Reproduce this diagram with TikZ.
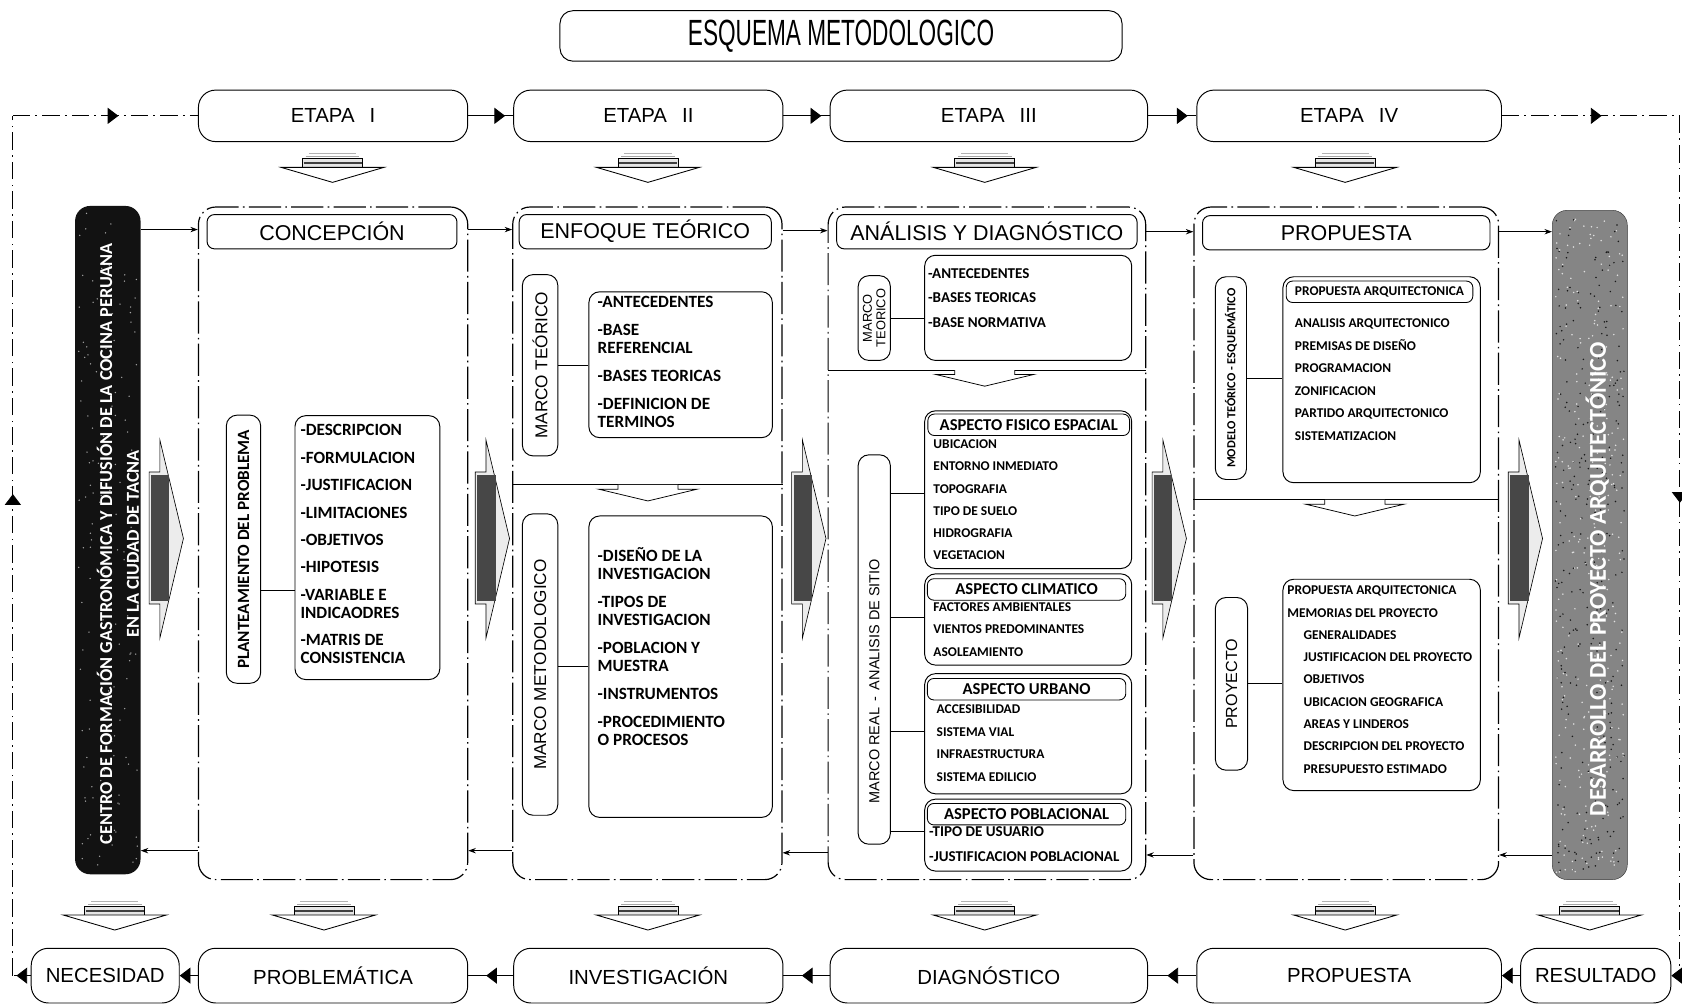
\documentclass[tikz,border=0pt]{standalone}
\usepackage{fontspec}
\setmainfont{Liberation Sans}
\newfontfamily\calfont{Carlito}
\newfontfamily\narrowfont[FakeStretch=0.62]{Liberation Sans}
\usetikzlibrary{positioning,arrows.meta,decorations.markings}

\definecolor{barblack}{gray}{0.07}
\definecolor{bargray}{gray}{0.52}
\definecolor{blkgray}{gray}{0.28}

% down block arrow under a stage / above a result box: centre x, top y
\newcommand{\dnblock}[2]{%
  \draw[gray!60, line width=1pt] (#1-22,#2) -- (#1+22,#2);
  \draw[gray!70, line width=1pt] (#1-25,#2+3) -- (#1+25,#2+3);
  \draw[fill=gray!20, line width=0.6pt] (#1-28,#2+5) rectangle (#1+28,#2+13);
  \draw[gray!50!black, line width=1.5pt] (#1-27,#2+9) -- (#1+27,#2+9);
  \draw[fill=white, line width=0.8pt] (#1-48,#2+13) -- (#1+48,#2+13) -- (#1,#2+27) -- cycle;}
% big right arrow between columns: left x of body
\newcommand{\bigarrow}[1]{%
  \draw[fill=gray!15, line width=0.6pt] (#1,440) -- (#1+10,440) -- (#1+10,410) -- (#1+32,502)
    -- (#1+10,595) -- (#1+10,563) -- (#1,563) -- cycle;
  \fill[blkgray] (#1+2,443) rectangle (#1+19,560);}
% flat arrow hanging from a divider: centre x, divider y
\newcommand{\flatarrow}[2]{%
  \draw[fill=white, line width=0.7pt] (#1-28,#2) -- (#1-28,#2+4) -- (#1-46,#2+4) -- (#1,#2+15)
    -- (#1+46,#2+4) -- (#1+28,#2+4) -- (#1+28,#2);}

\begin{document}
\begin{tikzpicture}[x=1pt, y=-1pt,
  stagebox/.style={draw, line width=0.9pt, rounded corners=16pt, fill=white, minimum height=48pt,
    inner sep=0pt, font=\fontsize{19}{22}\selectfont},
  colbox/.style={draw, line width=1.1pt, dash pattern=on 30pt off 4pt on 1.5pt off 4pt,
    rounded corners=16pt, inner sep=0pt},
  headbox/.style={draw, line width=0.9pt, rounded corners=7pt, minimum height=32pt, inner sep=0pt,
    font=\fontsize{20}{24}\selectfont},
  vlabel/.style={draw, line width=0.9pt, rounded corners=10pt, fill=white, rotate=90, inner sep=0pt, align=center},
  listbox/.style={draw, line width=0.9pt, rounded corners=10pt, inner sep=0pt},
  asphead/.style={draw, line width=0.8pt, rounded corners=6pt, minimum height=20pt, inner sep=0pt,
    font=\calfont\bfseries\fontsize{15.5}{18}\selectfont},
  itemtext/.style={anchor=north west, inner sep=0pt, align=left, font=\calfont\bfseries\fontsize{16}{17}\selectfont},
  link/.style={line width=0.8pt},
  loopline/.style={line width=0.8pt, dash pattern=on 16pt off 5pt on 1.5pt off 5pt},
  thinarr/.style={line width=0.8pt, -{Stealth[length=7pt,width=5pt]}},
  endtri/.style={-{Triangle[length=10pt,width=15pt]}},
  marr/.style={postaction={decorate}, decoration={markings,
    mark=at position #1 with {\arrow{Triangle[length=10pt,width=15pt]}}}}]

  \useasboundingbox (0,0) rectangle (1568,936);

  % title
  \node[draw, line width=0.9pt, rounded corners=12pt, minimum width=524pt, minimum height=47pt, inner sep=0pt,
    font=\narrowfont\fontsize{34}{36}\selectfont] (title) at (784,33.5) {ESQUEMA METODOLOGICO};

  % stage row (top) and result row (bottom)
  \node[stagebox, minimum width=251pt] (et1) at (310.5,108) {ETAPA\hspace{14pt}I};
  \node[stagebox, minimum width=251pt, right=42pt of et1] (et2) {ETAPA\hspace{14pt}II};
  \node[stagebox, minimum width=296pt, right=43pt of et2] (et3) {ETAPA\hspace{14pt}III};
  \node[stagebox, minimum width=284pt, right=45pt of et3] (et4) {ETAPA\hspace{14pt}IV};

  \node[stagebox, minimum width=251pt, minimum height=51pt] (prob) at (310.5,909.5) {PROBLEMÁTICA};
  \node[stagebox, minimum width=138pt, minimum height=51pt, left=17pt of prob] (nec) {NECESIDAD};
  \node[stagebox, minimum width=251pt, minimum height=51pt, right=42pt of prob] (inv) {INVESTIGACIÓN};
  \node[stagebox, minimum width=296pt, minimum height=51pt, right=43pt of inv] (diag) {DIAGNÓSTICO};
  \node[stagebox, minimum width=284pt, minimum height=51pt, right=45pt of diag] (prop) {PROPUESTA};
  \node[stagebox, minimum width=140pt, minimum height=51pt, right=17pt of prop] (res) {RESULTADO};

  % loop corners
  \coordinate (tl) at (12,108);
  \coordinate (tr) at (1566,108);
  \coordinate (bl) at (12,909.5);
  \coordinate (br) at (1566,909.5);

  \draw[loopline, marr=0.57] (tl) -- (et1.west);
  \draw[link, marr=0.82] (et1.east) -- (et2.west);
  \draw[link, marr=0.82] (et2.east) -- (et3.west);
  \draw[link, marr=0.82] (et3.east) -- (et4.west);
  \draw[loopline, marr=0.56] (et4.east) -- (tr);
  \draw[loopline, marr=0.45] (tr) -- (br);
  \draw[loopline, endtri] (br) -- (res.east);
  \draw[link, endtri] (res.west) -- (prop.east);
  \draw[link, marr=0.6] (prop.west) -- (diag.east);
  \draw[link, marr=0.6] (diag.west) -- (inv.east);
  \draw[link, marr=0.6] (inv.west) -- (prob.east);
  \draw[link, endtri] (prob.west) -- (nec.east);
  \draw[loopline, marr=0.8] (nec.west) -- (bl);
  \draw[loopline, marr=0.56] (bl) -- (tl);

  \dnblock{310}{143} \dnblock{604}{143} \dnblock{918}{143} \dnblock{1254}{143}
  \dnblock{107}{840} \dnblock{302}{840} \dnblock{604}{840} \dnblock{918}{840} \dnblock{1254}{840} \dnblock{1482}{840}

  % side bars
  \node[fill=barblack, rounded corners=14pt, minimum width=61pt, minimum height=623pt, inner sep=0pt] (bar1) at (100.5,503.5) {};
  \node[fill=bargray, draw=gray!40!black, rounded corners=14pt, minimum width=70pt, minimum height=624pt, inner sep=0pt] (bar2) at (1482,508) {};
  \pgfmathsetseed{42}
  \foreach \k in {1,...,150}{%
    \pgfmathsetmacro{\sx}{73+55*rnd}\pgfmathsetmacro{\sy}{198+610*rnd}
    \fill[gray!70] (\sx,\sy) circle (0.7pt);}
  \foreach \k in {1,...,300}{%
    \pgfmathsetmacro{\sx}{1450+64*rnd}\pgfmathsetmacro{\sy}{202+612*rnd}
    \fill[gray!25] (\sx,\sy) circle (0.8pt);
    \pgfmathsetmacro{\sx}{1450+64*rnd}\pgfmathsetmacro{\sy}{202+612*rnd}
    \fill[gray!20!black] (\sx,\sy) circle (0.8pt);}
  \node[rotate=90, text=white, align=center, font=\calfont\bfseries\fontsize{17}{25}\selectfont] (bar1t) at (110,507)
    {CENTRO DE FORMACIÓN GASTRONÓMICA Y DIFUSIÓN DE LA COCINA PERUANA\\EN LA CIUDAD DE TACNA};
  \node[rotate=90, text=white, font=\calfont\bfseries\fontsize{22.5}{26}\selectfont] (bar2t) at (1489,540)
    {DESARROLLO DEL PROYECTO ARQUITECTÓNICO};

  % the four columns
  \node[colbox, minimum width=251pt, minimum height=627pt] (c1) at (310.5,506.5) {};
  \node[colbox, minimum width=251pt, minimum height=627pt] (c2) at (603.5,506.5) {};
  \node[colbox, minimum width=296pt, minimum height=627pt] (c3) at (920,506.5) {};
  \node[colbox, minimum width=284pt, minimum height=627pt] (c4) at (1255,506.5) {};
  \node[headbox, minimum width=233pt] (hd1) at (309.5,216) {CONCEPCIÓN};
  \node[headbox, minimum width=235pt] (hd2) at (601.5,216) {ENFOQUE TEÓRICO};
  \node[headbox, minimum width=280pt] (hd3) at (920,216) {ANÁLISIS Y DIAGNÓSTICO};
  \node[headbox, minimum width=268pt] (hd4) at (1255,217) {PROPUESTA};

  \draw[thinarr] (bar1.east |- 0,214) -- (c1.west |- 0,214);
  \draw[thinarr] (c1.east |- 0,214) -- (c2.west |- 0,214);
  \draw[thinarr] (c2.east |- 0,215) -- (c3.west |- 0,215);
  \draw[thinarr] (c3.east |- 0,216) -- (c4.west |- 0,216);
  \draw[thinarr] (c4.east |- 0,216) -- (bar2.west |- 0,216);
  \draw[thinarr] (c1.west |- 0,793) -- (bar1.east |- 0,793);
  \draw[thinarr] (c2.west |- 0,793) -- (c1.east |- 0,793);
  \draw[thinarr] (c3.west |- 0,795) -- (c2.east |- 0,795);
  \draw[thinarr] (c4.west |- 0,797) -- (c3.east |- 0,797);
  \draw[thinarr] (bar2.west |- 0,797) -- (c4.east |- 0,797);

  \bigarrow{139} \bigarrow{443} \bigarrow{738} \bigarrow{1074} \bigarrow{1406}

  % column 1: concepcion
  \node[vlabel, minimum width=250pt, minimum height=32pt, font=\calfont\bfseries\fontsize{16}{18}\selectfont] (plan) at (227,512)
    {PLANTEAMIENTO DEL PROBLEMA};
  \node[listbox, minimum width=135pt, minimum height=246pt] (lst1) at (342.5,510.5) {};
  \node[itemtext] (lst1t) at (280,395.7) {-DESCRIPCION\\[8.5pt]-FORMULACION\\[8.5pt]-JUSTIFICACION\\[8.5pt]-LIMITACIONES\\[8.5pt]-OBJETIVOS\\[8.5pt]-HIPOTESIS\\[8.5pt]-VARIABLE E\\INDICAODRES\\[8.5pt]-MATRIS DE\\CONSISTENCIA};
  \draw[link] (plan.south |- 0,550) -- (lst1.west |- 0,550);

  % column 2: enfoque teorico
  \node[vlabel, minimum width=169pt, minimum height=33pt, font=\fontsize{16}{18}\selectfont] (mt2) at (503.5,340.5) {MARCO TEÓRICO};
  \node[listbox, minimum width=171pt, minimum height=136pt] (lst2a) at (634.5,340) {};
  \node[itemtext] (lst2at) at (557,275.7) {-ANTECEDENTES\\[9pt]-BASE\\REFERENCIAL\\[9pt]-BASES TEORICAS\\[9pt]-DEFINICION DE\\TERMINOS};
  \draw[link] (mt2.south |- 0,341) -- (lst2a.west |- 0,341);
  \draw[link] (c2.west |- 0,452) -- (c2.east |- 0,452);
  \flatarrow{604}{452}
  \node[vlabel, minimum width=281pt, minimum height=33pt, font=\fontsize{16}{18}\selectfont] (mm2) at (503.5,619.5) {MARCO METODOLOGICO};
  \node[listbox, minimum width=171pt, minimum height=281pt] (lst2b) at (634.5,621.5) {};
  \node[itemtext] (lst2bt) at (557,510) {-DISEÑO DE LA\\INVESTIGACION\\[9pt]-TIPOS DE\\INVESTIGACION\\[9pt]-POBLACION Y\\MUESTRA\\[9pt]-INSTRUMENTOS\\[9pt]-PROCEDIMIENTO\\O PROCESOS};
  \draw[link] (mm2.south |- 0,621) -- (lst2b.west |- 0,621);

  % column 3: analisis y diagnostico
  \node[vlabel, minimum width=79pt, minimum height=30pt, font=\fontsize{12}{12.5}\selectfont] (mt3) at (815,296.5) {MARCO\\TEORICO};
  \node[listbox, minimum width=193pt, minimum height=98pt] (lst3a) at (958.5,287) {};
  \node[itemtext, font=\calfont\bfseries\fontsize{14}{23}\selectfont] (lst3at) at (865,250) {-ANTECEDENTES\\-BASES TEORICAS\\-BASE NORMATIVA};
  \draw[link] (mt3.south |- 0,297) -- (lst3a.west |- 0,297);
  \draw[link] (c3.west |- 0,345) -- (c3.east |- 0,345);
  \flatarrow{918}{345}
  \node[vlabel, minimum width=363pt, minimum height=30pt, font=\fontsize{13.5}{16}\selectfont] (mr3) at (815,605.5)
    {MARCO REAL\hspace{6pt}-\hspace{6pt}ANALISIS DE SITIO\hspace*{59pt}};
  \node[listbox, minimum width=193pt, minimum height=147pt] (asp1) at (958.5,456.5) {};
  \node[asphead, minimum width=188pt] (asp1h) at (959,396) {ASPECTO FISICO ESPACIAL};
  \node[itemtext, font=\calfont\bfseries\fontsize{12.5}{20.6}\selectfont] (asp1t) at (870,410)
    {UBICACION\\ENTORNO INMEDIATO\\TOPOGRAFIA\\TIPO DE SUELO\\HIDROGRAFIA\\VEGETACION};
  \node[listbox, minimum width=193pt, minimum height=85pt] (asp2) at (958.5,577.5) {};
  \node[asphead, minimum width=185pt] (asp2h) at (957,549.5) {ASPECTO CLIMATICO};
  \node[itemtext, font=\calfont\bfseries\fontsize{12.5}{20.6}\selectfont] (asp2t) at (870,562)
    {FACTORES AMBIENTALES\\VIENTOS PREDOMINANTES\\ASOLEAMIENTO};
  \node[listbox, minimum width=193pt, minimum height=112pt] (asp3) at (958.5,684) {};
  \node[asphead, minimum width=185pt] (asp3h) at (957,642.5) {ASPECTO URBANO};
  \node[itemtext, font=\calfont\bfseries\fontsize{12.5}{21}\selectfont] (asp3t) at (873,657)
    {ACCESIBILIDAD\\SISTEMA VIAL\\INFRAESTRUCTURA\\SISTEMA EDILICIO};
  \node[listbox, minimum width=193pt, minimum height=67pt] (asp4) at (958.5,778.5) {};
  \node[asphead, minimum width=185pt] (asp4h) at (957,759) {ASPECTO POBLACIONAL};
  \node[itemtext, font=\calfont\bfseries\fontsize{14}{24}\selectfont] (asp4t) at (866,770)
    {-TIPO DE USUARIO\\-JUSTIFICACION POBLACIONAL};
  \draw[link] (mr3.south |- 0,460) -- (asp1.west |- 0,460);
  \draw[link] (mr3.south |- 0,576) -- (asp2.west |- 0,576);
  \draw[link] (mr3.south |- 0,682) -- (asp3.west |- 0,682);
  \draw[link] (mr3.south |- 0,775) -- (asp4.west |- 0,775);

  % column 4: propuesta
  \node[vlabel, minimum width=189pt, minimum height=29pt, font=\calfont\bfseries\fontsize{11.5}{13}\selectfont] (me4) at (1147.5,352.5)
    {MODELO TEÓRICO - ESQUEMÁTICO};
  \node[listbox, minimum width=184pt, minimum height=192pt] (lst4a) at (1288,354) {};
  \node[asphead, minimum width=174pt, font=\calfont\bfseries\fontsize{12.5}{14}\selectfont] (lst4ah) at (1286,272) {PROPUESTA ARQUITECTONICA};
  \node[itemtext, font=\calfont\bfseries\fontsize{12.5}{21}\selectfont] (lst4at) at (1207,297)
    {ANALISIS ARQUITECTONICO\\PREMISAS DE DISEÑO\\PROGRAMACION\\ZONIFICACION\\PARTIDO ARQUITECTONICO\\SISTEMATIZACION};
  \draw[link] (me4.south |- 0,353) -- (lst4a.west |- 0,353);
  \draw[link] (c4.west |- 0,466) -- (c4.east |- 0,466);
  \flatarrow{1263}{466}
  \node[vlabel, minimum width=161pt, minimum height=30pt, font=\fontsize{15}{17}\selectfont] (pr4) at (1148,637.5) {PROYECTO};
  \node[listbox, minimum width=184pt, minimum height=197pt] (lst4b) at (1288,638.5) {};
  \node[itemtext, font=\calfont\bfseries\fontsize{12.5}{20.8}\selectfont] (lst4bt) at (1200,546)
    {PROPUESTA ARQUITECTONICA\\MEMORIAS DEL PROYECTO\\\hspace*{15pt}GENERALIDADES\\\hspace*{15pt}JUSTIFICACION DEL PROYECTO\\\hspace*{15pt}OBJETIVOS\\\hspace*{15pt}UBICACION GEOGRAFICA\\\hspace*{15pt}AREAS Y LINDEROS\\\hspace*{15pt}DESCRIPCION DEL PROYECTO\\\hspace*{15pt}PRESUPUESTO ESTIMADO};
  \draw[link] (pr4.south |- 0,637) -- (lst4b.west |- 0,637);
\end{tikzpicture}
\end{document}
